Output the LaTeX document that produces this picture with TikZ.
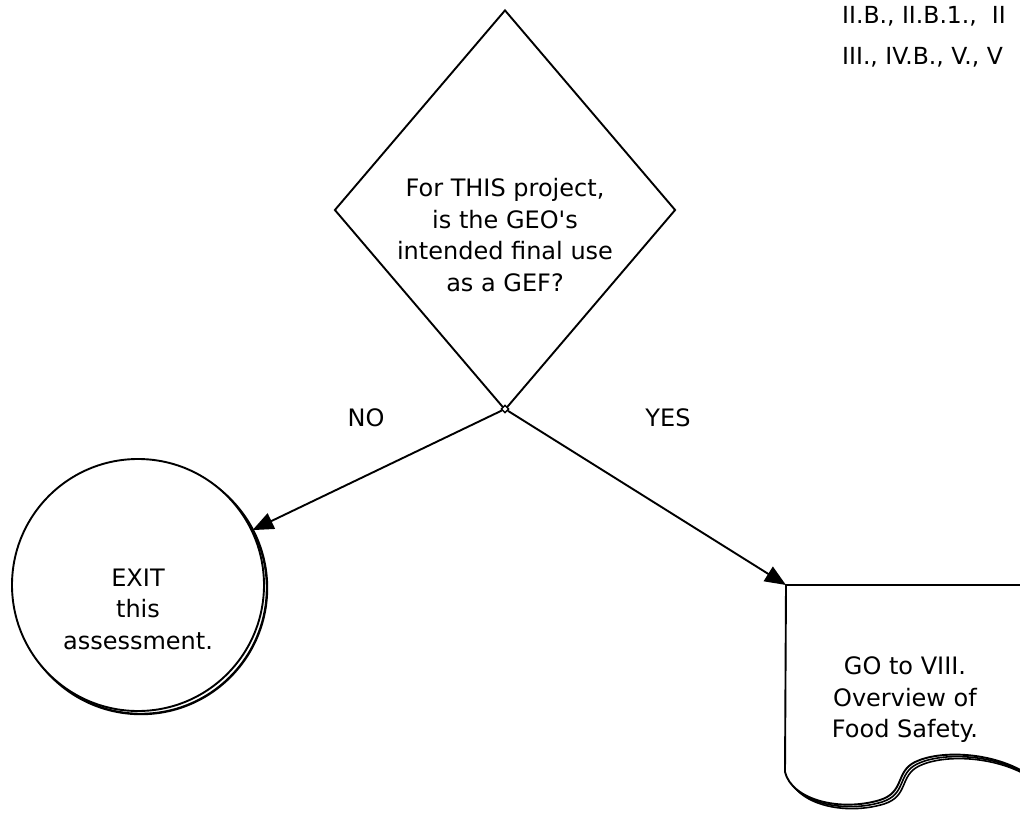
\documentclass[tikz,border=0pt]{standalone}
\usepackage{fontspec}
\setmainfont{DejaVu Sans}
\usetikzlibrary{arrows.meta, positioning, calc, shapes.geometric, shadows}

% outline of the document symbol (its right side runs off the page)
\newcommand{\docoutline}{(786,585) -- (1024,585) -- (1024,772)
  .. controls (990,752) and (940,750) .. (915,762)
  .. controls (895,772) and (905,792) .. (880,800)
  .. controls (840,812) and (792,800) .. (785,772) -- cycle}

\begin{document}
\begin{tikzpicture}[x=1pt, y=-1pt, font=\fontsize{24}{31.5}\selectfont,
    >={Triangle[length=21pt, width=17pt]},
    shape line/.style={draw, line width=1.9pt},
    flow/.style={->, line width=1.9pt},
    body/.style={align=center, inner sep=0pt}]

\useasboundingbox (0,0) rectangle (1020,814);
\clip (0,0) rectangle (1020,814);

% ── references, top right ────────────────────────────────────────
\node[anchor=north west, align=left, inner sep=0pt,
      font=\fontsize{23.5}{41}\selectfont] (refs) at (842,6)
    {II.B., II.B.1.,~~II\\III., IV.B., V., V};

% ── decision ─────────────────────────────────────────────────────
\node[shape line, diamond, aspect=0.85, minimum width=341pt,
      minimum height=400pt, inner sep=0pt] (ask) at (505,210) {};
\node[body] (asktext) at ($(ask.center)+(0,25)$)
    {For THIS project,\\is the GEO\textquotesingle s\\intended final use\\as a GEF?};
\node[shape line, diamond, minimum size=8pt, inner sep=0pt, fill=white,
      line width=1.4pt] (split) at (505,409) {};

% ── exit terminal ────────────────────────────────────────────────
\node[shape line, circle, fill=white, minimum size=252pt, inner sep=0pt,
      copy shadow={shadow xshift=3pt, shadow yshift=-3pt, opacity=1,
      draw, line width=2.4pt}] (exit) at (138,585) {};
\node[body] (exittext) at ($(exit.center)+(0,24)$)
    {EXIT\\this\\assessment.};

% ── document: go to section VIII ─────────────────────────────────
\draw[line width=1.6pt, fill=white, shift={(4,4)}] \docoutline;
\draw[line width=1.6pt, fill=white, shift={(2,2)}] \docoutline;
\draw[line width=1.9pt, fill=white] \docoutline;
\coordinate (doc) at (786,585);
\node[body] (doctext) at (905,700) {GO to VIII.\\Overview of\\Food Safety.};

% ── connectors ───────────────────────────────────────────────────
\draw[flow] (split) -- (exit);
\draw[flow] (split) -- (doc);
\node (no) at (366,418) {NO};
\node (yes) at (668,418) {YES};

\end{tikzpicture}
\end{document}
